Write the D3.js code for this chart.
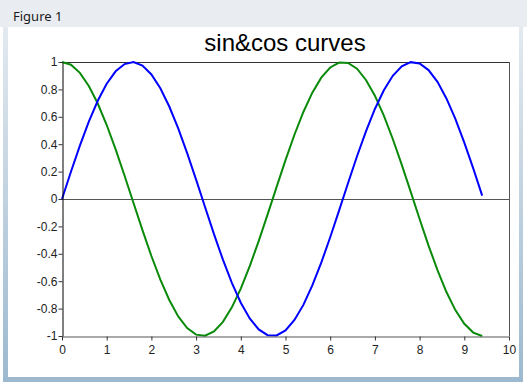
<!DOCTYPE html>
<html><head><meta charset="utf-8">
<script src="https://cdn.jsdelivr.net/npm/d3@7"></script>
<style>
html,body{margin:0;padding:0;background:#fff;}
svg{display:block;}
</style></head>
<body>
<svg id="c" width="527" height="387"></svg>
<script>
const xs = [0,0.2,0.4,0.6,0.8,1.0,1.2,1.4,1.6,1.8,2.0,2.2,2.4,2.6,2.8,3.0,3.2,3.4,3.6,3.8,4.0,4.2,4.4,4.6,4.8,5.0,5.2,5.4,5.6,5.8,6.0,6.2,6.4,6.6,6.8,7.0,7.2,7.4,7.6,7.8,8.0,8.2,8.4,8.6,8.8,9.0,9.2,9.4];
const sinValues = [0,0.199,0.389,0.565,0.717,0.841,0.932,0.985,1.0,0.974,0.909,0.808,0.675,0.516,0.335,0.141,-0.058,-0.256,-0.443,-0.612,-0.757,-0.872,-0.952,-0.994,-0.996,-0.959,-0.883,-0.773,-0.631,-0.465,-0.279,-0.083,0.117,0.312,0.494,0.657,0.794,0.899,0.968,0.999,0.989,0.941,0.855,0.734,0.585,0.412,0.223,0.025];
const cosValues = [1,0.980,0.921,0.825,0.697,0.540,0.362,0.170,-0.029,-0.227,-0.416,-0.589,-0.737,-0.857,-0.942,-0.990,-0.998,-0.967,-0.897,-0.791,-0.654,-0.490,-0.307,-0.112,0.087,0.284,0.469,0.635,0.776,0.886,0.960,0.996,0.993,0.951,0.869,0.754,0.608,0.438,0.251,0.054,-0.146,-0.340,-0.519,-0.679,-0.811,-0.911,-0.975,-1.0];
const xTicks = [0,1,2,3,4,5,6,7,8,9,10];
const yTicks = [1,0.8,0.6,0.4,0.2,0,-0.2,-0.4,-0.6,-0.8,-1];
const yTickLabels = ["1","0.8","0.6","0.4","0.2","0","-0.2","-0.4","-0.6","-0.8","-1"];
const title = "sin&cos curves";
const windowTitle = "Figure 1";

const svg = d3.select("#c");
// window frame
svg.append("rect").attr("x",0).attr("y",0).attr("width",527).attr("height",27).attr("fill","#e9edf1");
const grad = svg.append("defs").append("linearGradient").attr("id","lg").attr("x1",0).attr("y1",0).attr("x2",0).attr("y2",1);
grad.append("stop").attr("offset","0").attr("stop-color","#e3e9ef");
grad.append("stop").attr("offset","1").attr("stop-color","#9cb9cf");
svg.append("rect").attr("x",3).attr("y",27).attr("width",5).attr("height",355).attr("fill","url(#lg)");
svg.append("rect").attr("x",519).attr("y",27).attr("width",4).attr("height",355).attr("fill","url(#lg)");
svg.append("rect").attr("x",3).attr("y",377).attr("width",520).attr("height",5).attr("fill","#9cb9cf");
svg.append("text").attr("x",13).attr("y",21).attr("font-family","Noto Sans, sans-serif").attr("font-size",13).attr("fill","#1a1a1a").text(windowTitle);

const L=62,R=509,T=62,B=336;
const x = d3.scaleLinear().domain([0,10]).range([L,R]);
const y = d3.scaleLinear().domain([-1,1]).range([B,T]);

// box
svg.append("line").attr("x1",L).attr("x2",R).attr("y1",T+0.5).attr("y2",T+0.5).attr("stroke","#333");
svg.append("line").attr("x1",R+0.5).attr("x2",R+0.5).attr("y1",T).attr("y2",B).attr("stroke","#555");
// zero line
svg.append("line").attr("x1",L).attr("x2",R).attr("y1",Math.round(y(0))+0.5).attr("y2",Math.round(y(0))+0.5).attr("stroke","#555");

const line = d3.line().x((d,i)=>x(xs[i])).y(d=>y(d));
svg.append("path").datum(cosValues).attr("d",line).attr("fill","none").attr("stroke","#0a8a0a").attr("stroke-width",2);
svg.append("path").datum(sinValues).attr("d",line).attr("fill","none").attr("stroke","#0000ff").attr("stroke-width",2);

// axes
const xAxis = d3.axisBottom(x).tickValues(xTicks).tickSize(4).tickSizeOuter(0).tickFormat(d3.format("d"));
const gx = svg.append("g").attr("transform",`translate(0,${B+0.5})`).call(xAxis);
gx.select(".domain").attr("stroke","#555");
gx.selectAll(".tick line").attr("stroke","#333");
gx.selectAll("text").attr("font-family","Liberation Sans, Arial, sans-serif").attr("font-size",12).attr("fill","#222").attr("dy","0.9em");

const yAxis = d3.axisLeft(y).tickValues(yTicks).tickSize(4).tickSizeOuter(0).tickFormat((d,i)=>yTickLabels[i]);
const gy = svg.append("g").attr("transform",`translate(${L+0.5},0)`).call(yAxis);
gy.select(".domain").attr("stroke","#000");
gy.selectAll(".tick line").attr("stroke","#333");
gy.selectAll("text").attr("font-family","Liberation Sans, Arial, sans-serif").attr("font-size",12).attr("fill","#222").attr("x",-5);

svg.append("text").attr("x",285).attr("y",51).attr("text-anchor","middle").attr("font-family","Liberation Sans, Arial, sans-serif").attr("font-size",24).attr("fill","#000").text(title);
</script>
</body></html>
